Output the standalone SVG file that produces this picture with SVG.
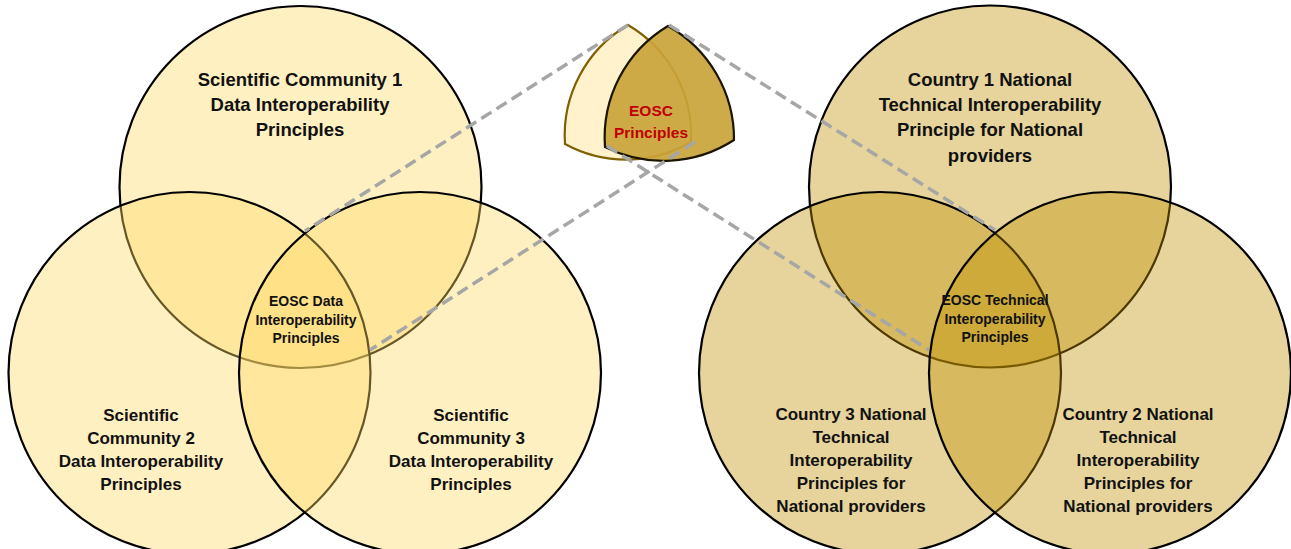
<svg xmlns="http://www.w3.org/2000/svg" width="1291" height="549" viewBox="0 0 1291 549">
<style>
.cl{fill:#FFD966;fill-opacity:0.4;stroke:#000;stroke-width:2.2}
.cr{fill:#BF9000;fill-opacity:0.39;stroke:#000;stroke-width:2.2}
.t{font-family:"Liberation Sans",Arial,sans-serif;font-weight:bold;fill:#111;text-anchor:middle}
.big{font-size:18.5px}
.mid{font-size:17px}
.sm{font-size:14px}
.red{font-family:"Liberation Sans",Arial,sans-serif;font-weight:bold;fill:#C00000;text-anchor:middle;font-size:15.5px}
.dash{stroke:#A6A6A6;stroke-width:3.5;stroke-dasharray:12 6;fill:none}
</style>
<rect width="1291" height="549" fill="#fff"/>
<g id="left-venn">
<g id="sc1"><circle class="cl" cx="300.5" cy="187" r="181"/></g>
<g id="sc2"><circle class="cl" cx="189.5" cy="373" r="181"/></g>
<g id="sc3"><circle class="cl" cx="420" cy="373" r="181"/></g>
</g>
<g id="right-venn">
<g id="c1"><circle class="cr" cx="990" cy="186.5" r="181"/></g>
<g id="c3"><circle class="cr" cx="880" cy="373" r="181"/></g>
<g id="c2"><circle class="cr" cx="1110" cy="373" r="181"/></g>
</g>
<g id="eosc">
<path d="M628,25 A128,128 0 0 1 691,142 A128,128 0 0 1 565,144 A128,128 0 0 1 628,25 Z" fill="#FFF2CC" stroke="#806000" stroke-width="2.2"/>
<path d="M668,26 A130,130 0 0 1 734,140 A130,130 0 0 1 605,147 A130,130 0 0 1 668,26 Z" fill="#C9A43A" fill-opacity="0.92" stroke="#1a1400" stroke-width="2.2"/>
<text class="red" x="651" y="116">EOSC</text>
<text class="red" x="651" y="138">Principles</text>
</g>
<g id="connectors">
<line class="dash" x1="628" y1="25" x2="305" y2="231"/>
<line class="dash" x1="695" y1="142" x2="370" y2="350"/>
<line class="dash" x1="669" y1="25" x2="995" y2="230"/>
<line class="dash" x1="607" y1="146" x2="929" y2="350"/>
</g>
<g id="labels-left">
<g id="sc1-label"><text class="t big" x="300" y="86">Scientific Community 1</text><text class="t big" x="300" y="111">Data Interoperability</text><text class="t big" x="300" y="136">Principles</text></g>
<g id="sc2-label"><text class="t mid" x="141" y="421">Scientific</text><text class="t mid" x="141" y="444">Community 2</text><text class="t mid" x="141" y="467">Data Interoperability</text><text class="t mid" x="141" y="490">Principles</text></g>
<g id="sc3-label"><text class="t mid" x="471" y="421">Scientific</text><text class="t mid" x="471" y="444">Community 3</text><text class="t mid" x="471" y="467">Data Interoperability</text><text class="t mid" x="471" y="490">Principles</text></g>
<g id="eosc-data"><text class="t sm" x="306" y="306">EOSC Data</text><text class="t sm" x="306" y="325">Interoperability</text><text class="t sm" x="306" y="343">Principles</text></g>
</g>
<g id="labels-right">
<g id="c1-label"><text class="t big" x="990" y="86">Country 1 National</text><text class="t big" x="990" y="111">Technical Interoperability</text><text class="t big" x="990" y="136">Principle for National</text><text class="t big" x="990" y="162">providers</text></g>
<g id="c3-label"><text class="t mid" x="851" y="420">Country 3 National</text><text class="t mid" x="851" y="443">Technical</text><text class="t mid" x="851" y="466">Interoperability</text><text class="t mid" x="851" y="489">Principles for</text><text class="t mid" x="851" y="512">National providers</text></g>
<g id="c2-label"><text class="t mid" x="1138" y="420">Country 2 National</text><text class="t mid" x="1138" y="443">Technical</text><text class="t mid" x="1138" y="466">Interoperability</text><text class="t mid" x="1138" y="489">Principles for</text><text class="t mid" x="1138" y="512">National providers</text></g>
<g id="eosc-tech"><text class="t sm" x="995" y="305">EOSC Technical</text><text class="t sm" x="995" y="324">Interoperability</text><text class="t sm" x="995" y="342">Principles</text></g>
</g>
</svg>
